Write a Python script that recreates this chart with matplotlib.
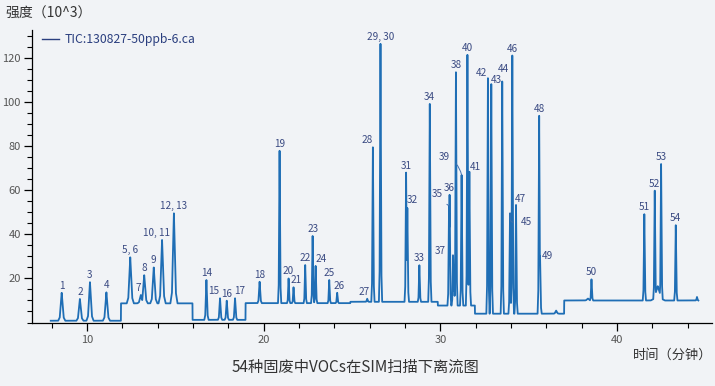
import numpy as np
import matplotlib
matplotlib.use("Agg")
import matplotlib.pyplot as plt
from matplotlib.lines import Line2D
from matplotlib.ticker import FixedLocator, MultipleLocator

plt.rcParams['font.family'] = ['Noto Sans CJK SC', 'DejaVu Sans']

# peak labels, retention time (min) and apex intensity (10^3)
peak_label = ['1', '2', '3', '4', '5, 6', '7', '8', '9', '10, 11', '12, 13',
              '14', '15', '16', '17', '18', '19', '20', '21', '22', '23',
              '24', '25', '26', '27', '28', '29, 30', '31', '32', '33', '34',
              '35', '36', '37', '38', '39', '40', '41', '42', '43', '44',
              '45', '46', '47', '48', '49', '50', '51', '52', '53', '54']
peak_rt = [8.57, 9.60, 10.17, 11.10, 12.45, 13.05, 13.24, 13.78, 14.25, 14.92,
           16.76, 17.53, 17.91, 18.38, 19.77, 20.90, 21.41, 21.69, 22.35, 22.77,
           22.94, 23.71, 24.16, 25.86, 26.18, 26.61, 28.06, 28.13, 28.81, 29.40,
           30.49, 30.52, 30.72, 30.88, 31.20, 31.53, 31.64, 32.69, 32.88, 33.50,
           33.94, 34.07, 34.28, 35.59, 35.64, 38.55, 41.54, 42.13, 42.49, 43.32]
peak_height = [13.5, 10.7, 18.3, 13.7, 29.6, 12.5, 21.5, 25.0, 37.5, 49.6,
               19.3, 11.0, 9.9, 11.0, 18.5, 78.0, 20.0, 16.0, 26.1, 39.3,
               25.7, 19.3, 13.5, 10.8, 79.6, 126.6, 68.1, 52.0, 26.0, 99.3,
               53.0, 58.0, 30.5, 113.7, 67.0, 121.6, 68.5, 111.0, 108.3, 109.5,
               49.6, 121.3, 53.4, 93.9, 30.0, 19.6, 49.2, 59.9, 72.0, 44.2]

# small unlabeled bumps
minor_rt = [30.78, 36.55, 38.35, 42.30, 44.52]
minor_height = [26.0, 5.4, 10.9, 16.5, 11.6]

# baseline level after each step (SIM segment changes)
base_start = [7.95, 11.92, 15.97, 18.97, 24.9, 29.85, 31.95, 37.0]
base_level = [0.8, 8.7, 1.2, 8.8, 9.4, 7.7, 4.0, 10.0]
run_end = 44.6

trace_color = '#1f6eb5'
label_color = '#3a4a82'
bg = '#f1f3f6'

# peak shape template (half base width units)
shape_u = [-1, -0.55, -0.25, 0, 0.25, 0.55, 1]
shape_f = [0, 0.12, 0.6, 1, 0.6, 0.12, 0]


def baseline(t):
    idx = np.searchsorted(base_start, t, side='right') - 1
    return np.asarray(base_level)[np.clip(idx, 0, len(base_level) - 1)]


def peak_width(rt):
    if rt < 15.5:
        return 0.2
    if rt < 20:
        return 0.12
    return 0.09


t = np.arange(base_start[0], run_end, 0.002)
bump = np.zeros_like(t)
for rt, h in zip(peak_rt, peak_height):
    w = peak_width(rt)
    d = h - baseline(np.array([rt]))[0]
    bump = np.maximum(bump, d * np.interp((t - rt) / w, shape_u, shape_f))
for rt, h, w in zip(minor_rt, minor_height, [0.05, 0.15, 0.2, 0.4, 0.08]):
    d = h - baseline(np.array([rt]))[0]
    bump = np.maximum(bump, d * np.interp((t - rt) / w, shape_u, shape_f))
signal = baseline(t) + bump

fig = plt.figure(figsize=(7.15, 3.86), dpi=100, facecolor=bg)
ax = fig.add_axes([32 / 715, 1 - 322.5 / 386, 680 / 715, 292.5 / 386])
ax.set_facecolor(bg)
ax.plot(t, signal, color=trace_color, lw=1.3)

# label offsets in pixels from the apex (dx, dy)
offsets = {'7': (-3, 7), '10, 11': (-6, 7), '15': (-6, 7), '17': (5, 7),
           '21': (3, 7), '24': (6, 7), '26': (2, 7), '27': (-3, 7),
           '28': (-6, 7), '32': (5, 8), '35': (-12, 12), '37': (-13, 4),
           '39': (-17, 18), '41': (6, 5), '42': (-6, 5), '43': (5, 4),
           '44': (1, 13), '45': (16, -9), '47': (4, 6), '49': (7, 0)}
leaders = {'35': 'arc3,rad=0.1', '37': 'arc3,rad=0.0',
           '39': 'arc3,rad=-0.3', '45': 'angle,angleA=0,angleB=90,rad=4'}
for lab, rt, h in zip(peak_label, peak_rt, peak_height):
    dx, dy = offsets.get(lab, (0, 7))
    kw = {}
    if lab in leaders:
        kw['arrowprops'] = dict(arrowstyle='-', color='#3d6fb0', lw=0.7,
                                shrinkA=3, shrinkB=0,
                                connectionstyle=leaders[lab])
    ax.annotate(lab, xy=(rt, h), xytext=(dx, dy), textcoords='offset pixels',
                ha='center', va='center', fontsize=7.2, color=label_color, **kw)

ax.set_xlim(6.89, 45.37)
ax.set_ylim(0, 132.9)
ax.xaxis.set_major_locator(FixedLocator([10, 20, 30, 40]))
ax.xaxis.set_minor_locator(MultipleLocator(2))
ax.yaxis.set_major_locator(FixedLocator([20, 40, 60, 80, 100, 120]))
ax.yaxis.set_minor_locator(MultipleLocator(5))
ax.tick_params(which='major', length=6, width=0.9, labelsize=8,
               labelcolor='#555555', pad=3)
ax.tick_params(axis='y', which='major', pad=2)
ax.tick_params(which='minor', length=3.5, width=0.8)
for s in ['top', 'right']:
    ax.spines[s].set_visible(False)
for s in ['left', 'bottom']:
    ax.spines[s].set_linewidth(0.9)

handle = Line2D([], [], color='#2b3f7f', lw=1.0)
ax.legend([handle], ['TIC:130827-50ppb-6.ca'], loc='upper left',
          bbox_to_anchor=(-0.002, 1.028), frameon=False, fontsize=8.8,
          handlelength=1.4, handletextpad=0.5, labelcolor='#2b3f7f')

fig.text(5 / 715, 1 - 14 / 386, '强度（10^3）', ha='left', va='center',
         fontsize=10, color='#333333')
fig.text(712 / 715, 1 - 355 / 386, '时间（分钟）', ha='right', va='center',
         fontsize=9.5, color='#333333')
fig.text(355 / 715, 1 - 367.5 / 386, '54种固废中VOCs在SIM扫描下离流图',
         ha='center', va='center', fontsize=11, color='#333333')

fig.savefig('out.png', dpi=100, facecolor=bg)
